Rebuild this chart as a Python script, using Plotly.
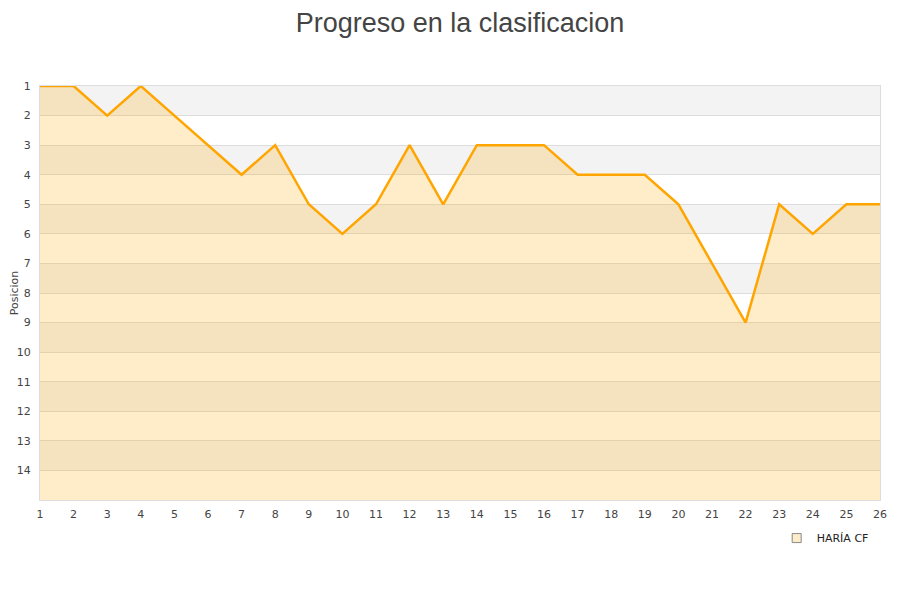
import plotly.graph_objects as go

jornadas = list(range(1, 27))
posiciones = [1, 1, 2, 1, 2, 3, 4, 3, 5, 6, 5, 3, 5, 3, 3, 3, 4, 4, 4, 5, 7, 9, 5, 6, 5, 5]
equipo = "HARÍA CF"
y_ticks = list(range(1, 15))
fondo = 15

fig = go.Figure()
fig.add_trace(go.Scatter(x=jornadas, y=[fondo] * len(jornadas), mode="lines",
                         line=dict(width=0), showlegend=False, hoverinfo="skip"))
fig.add_trace(go.Scatter(x=jornadas, y=posiciones, mode="lines", fill="tonexty",
                         fillcolor="rgba(255,165,0,0.21)",
                         line=dict(color="#FFA500", width=2.5), showlegend=False, name=equipo))
fig.add_trace(go.Scatter(x=[None], y=[None], mode="markers", name=equipo,
                         marker=dict(symbol="square", size=9, color="#feecc9",
                                     line=dict(color="#888", width=1))))

shapes = []
for k in range(1, 15, 2):
    shapes.append(dict(type="rect", xref="paper", yref="y", x0=0, x1=1, y0=k, y1=k + 1,
                       fillcolor="#f3f3f3", line=dict(width=0), layer="below"))
fig.update_layout(
    shapes=shapes,
    width=900, height=600,
    paper_bgcolor="white", plot_bgcolor="white",
    margin=dict(l=32, r=28, t=78, b=108, autoexpand=False),
    title=dict(text="Progreso en la clasificacion", x=0.5, xanchor="center",
               xref="paper", yref="container", y=0.975, yanchor="middle",
               font=dict(family="Liberation Sans", size=27, color="#444")),
    font=dict(family="DejaVu Sans", size=11, color="#444"),
    xaxis=dict(range=[1, 26], tickvals=jornadas, showgrid=False, zeroline=False, automargin=False,
               showline=True, linecolor="#ddd", mirror=True, ticks="", tickfont=dict(size=11),
               ticklabelstandoff=4),
    yaxis=dict(range=[fondo, 1], tickvals=y_ticks, showgrid=True, gridcolor="#dddddd",
               zeroline=False, showline=True, linecolor="#ddd", mirror=True, ticks="", automargin=False,
               title=dict(text="Posicion", font=dict(size=11), standoff=0), tickfont=dict(size=11),
               ticklabelstandoff=6),
    legend=dict(x=0.877, y=-0.092, xanchor="left", yanchor="middle", bgcolor="rgba(0,0,0,0)",
                font=dict(size=11, color="#222"), itemwidth=30),
    showlegend=True,
)
fig.write_html("out.html")
